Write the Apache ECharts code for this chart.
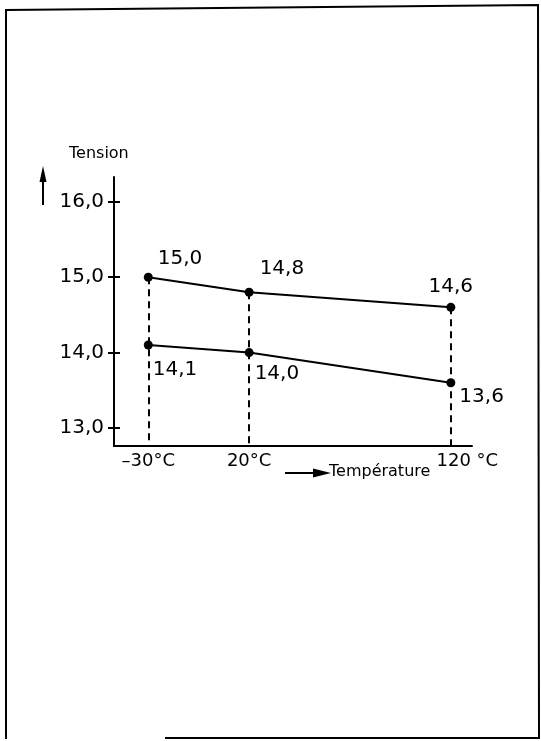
<!DOCTYPE html>
<html>
<head>
<meta charset="utf-8">
<style>
  html, body { margin: 0; padding: 0; background: #fff; }
  #chart { width: 541px; height: 741px; }
</style>
<script src="https://cdn.jsdelivr.net/npm/echarts@6/dist/echarts.min.js"></script>
</head>
<body>
<div id="chart"></div>
<script>
// Temperatures (°C) at which the voltage was measured
const temps = [-30, 20, 120];
const tempLabels = ['–30°C', '20°C', '120 °C'];
// Upper and lower voltage curves (V)
const tensionHigh = [15.0, 14.8, 14.6];
const tensionLow = [14.1, 14.0, 13.6];
// Voltage axis ticks
const yTicks = [13, 14, 15, 16];

const FONT = 'DejaVu Sans';
const Y_MIN = 12.76, Y_MAX = 16.33;
const X_MIN = -47, X_MAX = 130.5;

const fmt = v => v.toFixed(1).replace('.', ',');

// label placement next to each marker
const highLabelCfg = [
  { position: 'right', offset: [0, -18] },
  { position: 'right', offset: [1, -23] },
  { position: 'top', offset: [0, -1] }
];
const lowLabelCfg = [
  { position: 'right', offset: [-5, 25] },
  { position: 'right', offset: [-4, 21] },
  { position: 'right', offset: [-1, 14] }
];

function buildData(values, cfg) {
  return temps.map((t, i) => ({
    value: [t, values[i]],
    label: Object.assign({ show: true, formatter: fmt(values[i]) }, cfg[i])
  }));
}

const chart = echarts.init(document.getElementById('chart'));

const tickAxisBase = {
  type: 'value',
  position: 'left',
  offset: 0,
  min: Y_MIN,
  max: Y_MAX,
  splitLine: { show: false }
};

chart.setOption({
  animation: false,
  backgroundColor: '#fff',
  textStyle: { fontFamily: FONT, color: '#000' },
  grid: { left: 114, right: 69, top: 177, bottom: 295 },
  xAxis: {
    type: 'value',
    min: X_MIN,
    max: X_MAX,
    splitLine: { show: false },
    axisLine: { show: true, onZero: false, lineStyle: { color: '#000', width: 2 } },
    axisTick: { show: false },
    axisLabel: {
      customValues: temps,
      margin: 6,
      fontFamily: FONT,
      fontSize: 18,
      color: '#000',
      formatter: v => {
        const i = temps.indexOf(v);
        return i === 2 ? '{r|' + tempLabels[i] + '}' : tempLabels[i];
      },
      rich: { r: { fontFamily: FONT, fontSize: 18, color: '#000', padding: [0, 0, 0, 33] } }
    }
  },
  yAxis: [
    Object.assign({}, tickAxisBase, {
      axisLine: { show: true, onZero: false, lineStyle: { color: '#000', width: 2 } },
      axisTick: { show: true, customValues: yTicks, length: 6, lineStyle: { color: '#000', width: 2 } },
      axisLabel: {
        customValues: yTicks,
        margin: 10,
        fontFamily: FONT,
        fontSize: 20,
        color: '#000',
        formatter: v => fmt(v)
      }
    }),
    Object.assign({}, tickAxisBase, {
      axisLine: { show: false, onZero: false },
      axisTick: { show: true, inside: true, customValues: yTicks, length: 6, lineStyle: { color: '#000', width: 2 } },
      axisLabel: { show: false }
    })
  ],
  series: [
    {
      type: 'line',
      yAxisIndex: 0,
      data: buildData(tensionHigh, highLabelCfg),
      symbol: 'circle',
      symbolSize: 9,
      itemStyle: { color: '#000' },
      lineStyle: { color: '#000', width: 2 },
      label: { fontFamily: FONT, fontSize: 20, color: '#000' },
      markLine: {
        silent: true,
        symbol: 'none',
        label: { show: false },
        lineStyle: { color: '#000', width: 2, type: [7, 5] },
        data: temps.map((t, i) => [
          { coord: [t, tensionHigh[i]] },
          { coord: [t, Y_MIN] }
        ])
      }
    },
    {
      type: 'line',
      yAxisIndex: 0,
      data: buildData(tensionLow, lowLabelCfg),
      symbol: 'circle',
      symbolSize: 9,
      itemStyle: { color: '#000' },
      lineStyle: { color: '#000', width: 2 },
      label: { fontFamily: FONT, fontSize: 20, color: '#000' }
    }
  ],
  graphic: [
    // page frame
    {
      type: 'polyline',
      shape: { points: [[165, 738], [539, 738], [538, 5], [6, 10], [6, 739]] },
      style: { stroke: '#000', lineWidth: 2, fill: null }
    },
    // voltage axis title with upward arrow
    {
      type: 'line',
      shape: { x1: 43, y1: 205, x2: 43, y2: 178 },
      style: { stroke: '#000', lineWidth: 2 }
    },
    {
      type: 'polygon',
      shape: { points: [[43, 166], [39.5, 182], [46.5, 182]] },
      style: { fill: '#000' }
    },
    {
      type: 'text',
      left: 69,
      top: 146,
      style: { text: 'Tension', fontFamily: FONT, fontSize: 16, fill: '#000' }
    },
    // temperature axis title with arrow
    {
      type: 'line',
      shape: { x1: 285, y1: 473, x2: 316, y2: 473 },
      style: { stroke: '#000', lineWidth: 2 }
    },
    {
      type: 'polygon',
      shape: { points: [[331, 473], [313, 468.5], [313, 477.5]] },
      style: { fill: '#000' }
    },
    {
      type: 'text',
      left: 329,
      top: 464,
      style: { text: 'Température', fontFamily: FONT, fontSize: 16, fill: '#000' }
    }
  ]
});
</script>
</body>
</html>
